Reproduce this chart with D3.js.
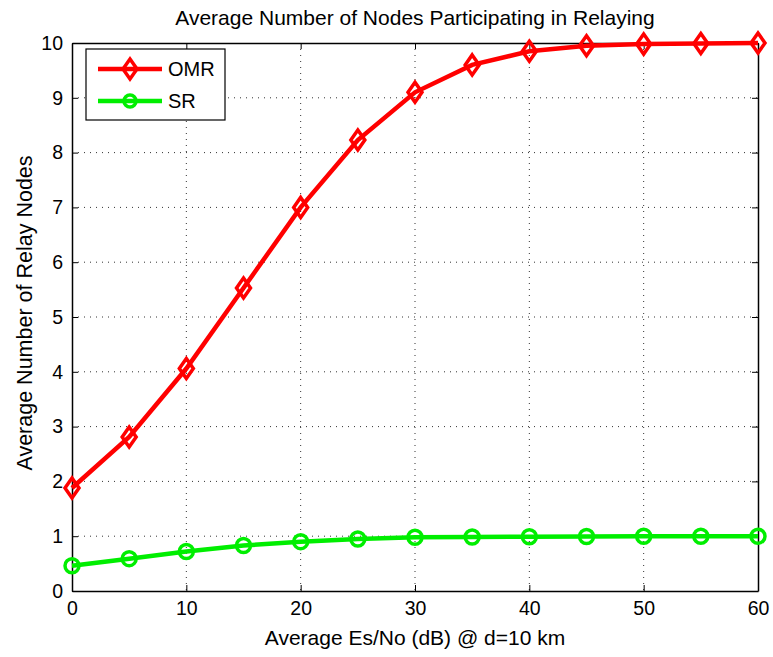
<!DOCTYPE html>
<html>
<head>
<meta charset="utf-8">
<script src="https://cdn.jsdelivr.net/npm/d3@7"></script>
<style>
  body { margin: 0; background: #fff; }
  svg { display: block; font-family: "Liberation Sans", Arial, sans-serif; }
</style>
</head>
<body>
<svg id="chart" width="773" height="657"></svg>
<script>
const snrDb = [0, 5, 10, 15, 20, 25, 30, 35, 40, 45, 50, 55, 60];
const omrNodes = [1.88, 2.81, 4.06, 5.53, 7.0, 8.23, 9.1, 9.6, 9.85, 9.95, 9.98, 9.99, 10.0];
const srNodes = [0.46, 0.59, 0.72, 0.83, 0.9, 0.95, 0.98, 0.985, 0.99, 0.995, 0.998, 0.999, 1.0];
const xTicks = [0, 10, 20, 30, 40, 50, 60];
const yTicks = [0, 1, 2, 3, 4, 5, 6, 7, 8, 9, 10];

const svg = d3.select("#chart");
const margin = { top: 43, right: 15, bottom: 66, left: 72 };
const width = 773 - margin.left - margin.right;
const height = 657 - margin.top - margin.bottom;

const x = d3.scaleLinear().domain([0, 60]).range([0, width]);
const y = d3.scaleLinear().domain([0, 10]).range([height, 0]);

const g = svg.append("g").attr("transform", `translate(${margin.left},${margin.top})`);

// dotted grid
g.selectAll(".gx").data(xTicks.slice(1, -1)).enter().append("line")
  .attr("x1", d => x(d)).attr("x2", d => x(d))
  .attr("y1", 0).attr("y2", height)
  .attr("stroke", "#333").attr("stroke-width", 1).attr("stroke-dasharray", "1,5");
g.selectAll(".gy").data(yTicks.slice(1, -1)).enter().append("line")
  .attr("x1", 0).attr("x2", width)
  .attr("y1", d => y(d)).attr("y2", d => y(d))
  .attr("stroke", "#333").attr("stroke-width", 1).attr("stroke-dasharray", "1,5");

// axes (ticks inside)
g.append("g").attr("transform", `translate(0,${height})`)
  .call(d3.axisBottom(x).tickValues(xTicks).tickSizeInner(-6).tickSizeOuter(0).tickPadding(10));
g.append("g")
  .call(d3.axisLeft(y).tickValues(yTicks).tickSizeInner(-6).tickSizeOuter(0).tickPadding(9));
g.append("g")
  .call(d3.axisTop(x).tickValues(xTicks).tickSizeInner(-6).tickSizeOuter(0).tickFormat(""));
g.append("g").attr("transform", `translate(${width},0)`)
  .call(d3.axisRight(y).tickValues(yTicks).tickSizeInner(-6).tickSizeOuter(0).tickFormat(""));

g.selectAll(".domain").attr("stroke", "#000").attr("stroke-width", 1.5);
g.selectAll(".tick line").attr("stroke", "#000");
g.selectAll(".tick text").attr("font-size", 19.5).attr("fill", "#000")
  .attr("font-family", "Liberation Sans, Arial, sans-serif");

// series
const line = d3.line().x((d, i) => x(snrDb[i])).y(d => y(d));

g.append("path").datum(srNodes)
  .attr("fill", "none").attr("stroke", "#00ee00").attr("stroke-width", 4.5)
  .attr("d", line);
g.selectAll(".sr").data(srNodes).enter().append("circle")
  .attr("cx", (d, i) => x(snrDb[i])).attr("cy", d => y(d)).attr("r", 7)
  .attr("fill", "none").attr("stroke", "#00ee00").attr("stroke-width", 3.5);

g.append("path").datum(omrNodes)
  .attr("fill", "none").attr("stroke", "#ff0000").attr("stroke-width", 4.5)
  .attr("d", line);

const diamond = (cx, cy) => `M${cx},${cy - 10}L${cx + 7},${cy}L${cx},${cy + 10}L${cx - 7},${cy}Z`;
g.selectAll(".omr").data(omrNodes).enter().append("path")
  .attr("d", (d, i) => diamond(x(snrDb[i]), y(d)))
  .attr("fill", "none").attr("stroke", "#ff0000").attr("stroke-width", 3.5);

// legend
const legend = svg.append("g").attr("transform", "translate(86,49)");
legend.append("rect").attr("width", 139).attr("height", 71)
  .attr("fill", "#fff").attr("stroke", "#000").attr("stroke-width", 1.2);
legend.append("line").attr("x1", 12).attr("x2", 76).attr("y1", 20).attr("y2", 20)
  .attr("stroke", "#ff0000").attr("stroke-width", 4.5);
legend.append("path").attr("d", diamond(44, 20))
  .attr("fill", "none").attr("stroke", "#ff0000").attr("stroke-width", 3.5);
legend.append("text").attr("x", 82).attr("y", 27).attr("font-size", 20).text("OMR");
legend.append("line").attr("x1", 12).attr("x2", 76).attr("y1", 52).attr("y2", 52)
  .attr("stroke", "#00ee00").attr("stroke-width", 4.5);
legend.append("circle").attr("cx", 44).attr("cy", 52).attr("r", 6)
  .attr("fill", "none").attr("stroke", "#00ee00").attr("stroke-width", 3.5);
legend.append("text").attr("x", 82).attr("y", 59).attr("font-size", 20).text("SR");

// titles
svg.append("text").attr("x", 415).attr("y", 25)
  .attr("text-anchor", "middle").attr("font-size", 21)
  .text("Average Number of Nodes Participating in Relaying");
svg.append("text").attr("x", 415).attr("y", 645)
  .attr("text-anchor", "middle").attr("font-size", 21)
  .text("Average Es/No (dB) @ d=10 km");
svg.append("text")
  .attr("transform", `translate(32,313) rotate(-90)`)
  .attr("text-anchor", "middle").attr("font-size", 21.5)
  .text("Average Number of Relay Nodes");
</script>
</body>
</html>
